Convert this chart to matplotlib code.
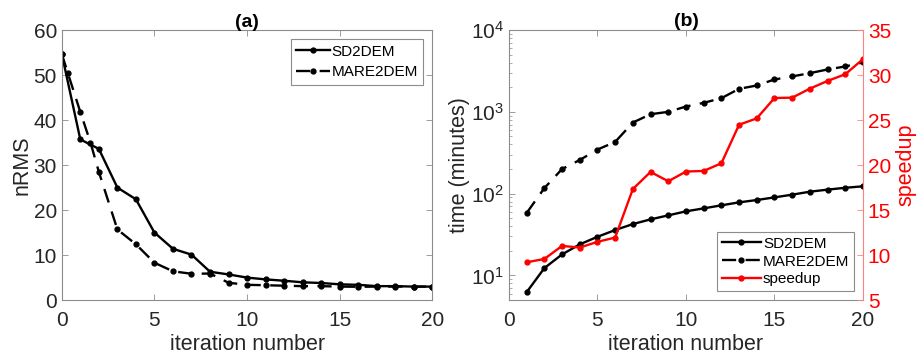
import matplotlib.pyplot as plt

plt.rcParams['font.family'] = ['Liberation Sans', 'DejaVu Sans']

# --- panel (a): nRMS vs iteration ---
iters = list(range(0, 21))
nrms_sd2dem = [54.7, 35.7, 33.6, 25.0, 22.4, 15.0, 11.4, 10.1, 6.3, 5.7, 5.0,
               4.6, 4.3, 3.95, 3.8, 3.5, 3.4, 3.1, 3.1, 3.0, 3.0]
iters_mare = [0, 0.33, 1, 1.55, 2, 3, 4, 5, 6, 7, 8, 9, 10, 11, 12, 13, 14, 15, 16, 17, 18, 19, 20]
nrms_mare2dem = [54.7, 50.4, 41.8, 35.0, 28.5, 15.7, 12.4, 8.3, 6.4, 5.85, 5.9, 3.85, 3.4,
                 3.3, 3.2, 3.1, 3.1, 3.0, 2.96, 3.0, 3.0, 3.0, 3.0]

# --- panel (b): run time and speedup ---
iters_b = list(range(1, 21))
time_sd2dem = [6.25, 12.3, 18.1, 24, 29.7, 35.9, 42.5, 48.5, 54.3, 60.8,
               66.1, 72, 78.3, 83.6, 90.1, 97.2, 105.7, 112, 118, 123]
time_mare2dem = [58, 117, 200, 258, 346, 429, 740, 936, 1000, 1162,
                 1289, 1469, 1913, 2100, 2489, 2710, 2974, 3297, 3590, 4018]
speedup = [9.2, 9.57, 11.02, 10.84, 11.47, 11.95, 17.34, 19.24, 18.2, 19.28,
           19.35, 20.2, 24.48, 25.19, 27.45, 27.49, 28.49, 29.35, 30.09, 31.77]

txt = '#262626'
spine = '#8c8c8c'
red = '#ff0000'
lab_fs = 15.5
tick_fs = 15

fig = plt.figure(figsize=(9.22, 3.62), dpi=100)
ax1 = fig.add_axes([0.067, 0.171, 0.402, 0.746])
ax2 = fig.add_axes([0.552, 0.171, 0.384, 0.746])

# panel (a)
ax1.plot(iters, nrms_sd2dem, '-', color='k', lw=1.7, marker='o', ms=3.5, label='SD2DEM')
ax1.plot(iters_mare, nrms_mare2dem, '--', color='k', lw=1.7, marker='o', ms=3.5,
         dashes=(6, 4), label='MARE2DEM')
ax1.set_xlim(0, 20)
ax1.set_ylim(0, 60)
ax1.set_xticks([0, 5, 10, 15, 20])
ax1.set_yticks(range(0, 61, 10))
ax1.set_xlabel('iteration number', fontsize=lab_fs, color=txt, labelpad=3)
ax1.set_ylabel('nRMS', fontsize=lab_fs, color=txt, labelpad=1)
ax1.set_title('(a)', fontsize=14, fontweight='bold', pad=2)
leg = ax1.legend(loc='upper right', fontsize=11, fancybox=False, edgecolor=spine,
                 framealpha=1, handlelength=2.2, borderaxespad=0.6, labelspacing=0.45,
                 handletextpad=0.1, borderpad=0.35)
leg.get_frame().set_linewidth(0.8)

# panel (b)
l1, = ax2.plot(iters_b, time_sd2dem, '-', color='k', lw=1.7, marker='o', ms=3.5, label='SD2DEM')
l2, = ax2.plot(iters_b, time_mare2dem, '--', color='k', lw=1.7, marker='o', ms=3.5,
               dashes=(6, 4), label='MARE2DEM')
ax2.set_yscale('log')
ax2.set_xlim(0, 20)
ax2.set_ylim(5, 1e4)
ax2.set_xticks([0, 5, 10, 15, 20])
ax2.set_xlabel('iteration number', fontsize=lab_fs, color=txt, labelpad=3)
ax2.set_ylabel('time (minutes)', fontsize=lab_fs, color=txt, labelpad=1)
ax2.set_title('(b)', fontsize=14, fontweight='bold', pad=2)

ax3 = ax2.twinx()
l3, = ax3.plot(iters_b, speedup, '-', color=red, lw=1.7, marker='o', ms=3.5, label='speedup')
ax3.set_ylim(5, 35)
ax3.set_yticks(range(5, 36, 5))
ax3.set_ylabel('speedup', fontsize=lab_fs, color=red, labelpad=3)
ax3.tick_params(axis='y', colors='#ff8080', labelcolor=red, labelsize=tick_fs,
                direction='in', length=4, width=0.6)
ax3.spines['right'].set_color('#ff8080')
for s in ['left', 'top', 'bottom']:
    ax3.spines[s].set_visible(False)
leg2 = ax3.legend(handles=[l1, l2, l3], loc='lower right', fontsize=11, fancybox=False,
                  edgecolor=spine, framealpha=1, handlelength=2.6, borderaxespad=0.6,
                  labelspacing=0.25, handletextpad=0.1, borderpad=0.3)
leg2.get_frame().set_linewidth(0.8)

for ax in (ax1, ax2):
    ax.tick_params(axis='both', which='major', direction='in', length=4, width=0.6,
                   labelsize=tick_fs, colors=spine, labelcolor=txt, top=True)
    ax.tick_params(axis='both', which='minor', direction='in', length=2, width=0.5,
                   colors=spine, top=False)
    for s in ax.spines.values():
        s.set_color(spine)
        s.set_linewidth(0.8)
ax1.tick_params(axis='y', right=True)
ax2.spines['right'].set_visible(False)
ax2.tick_params(axis='x', pad=8)
ax1.tick_params(axis='x', pad=8)

fig.savefig('out.png', dpi=100)
